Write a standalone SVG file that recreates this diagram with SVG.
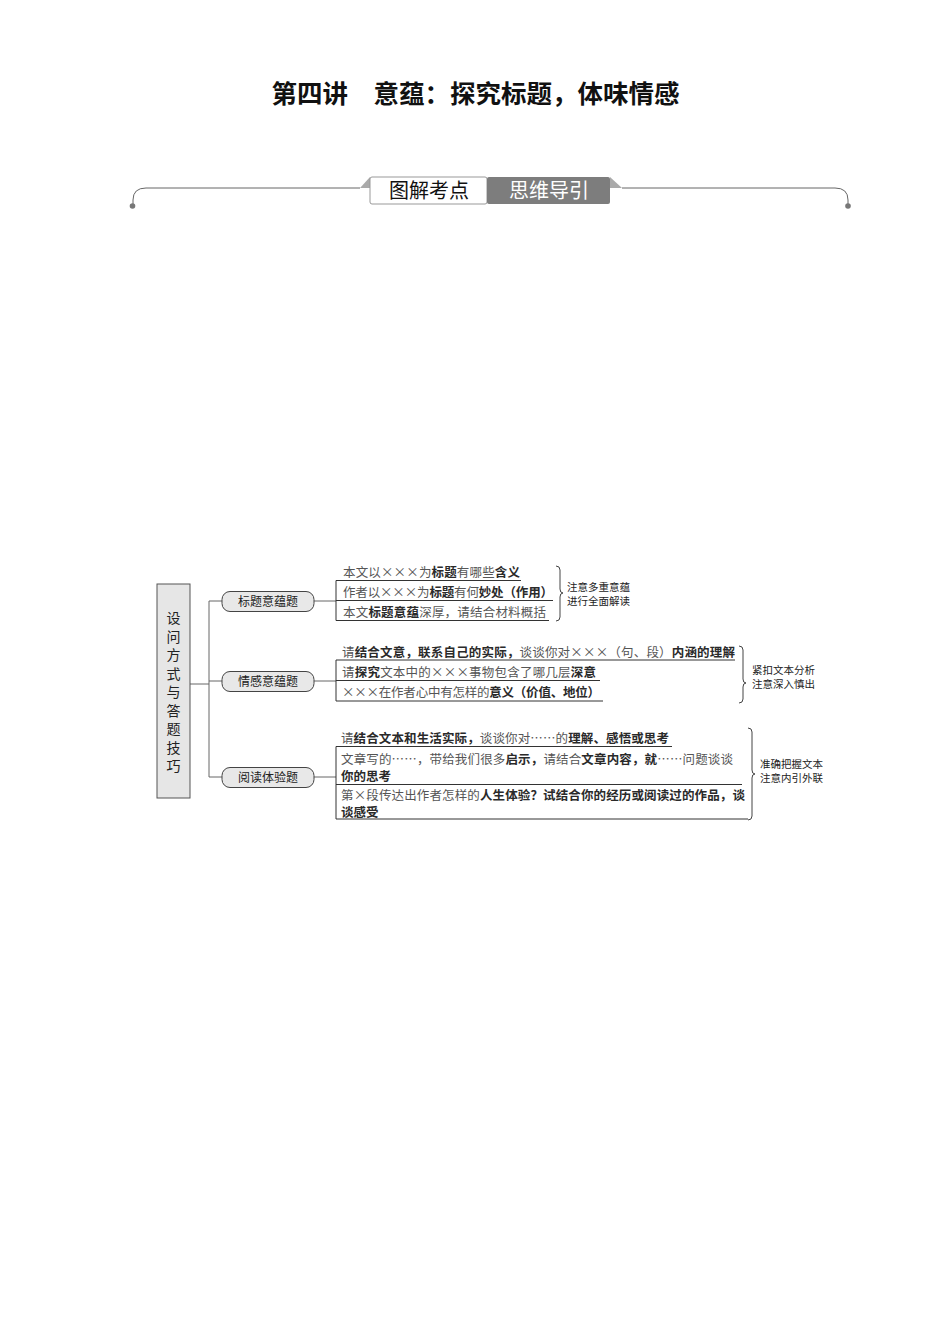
<svg xmlns="http://www.w3.org/2000/svg" width="950" height="1344" viewBox="0 0 950 1344">
<style>
.cjk{font-family:"Noto Sans CJK SC","Noto Sans",sans-serif}
.t{font-size:12.5px;fill:#555}
.b{font-weight:bold;fill:#2a2a2a}
.note{font-size:10.5px;fill:#222}
.pill{fill:#e8e8e8;stroke:#444;stroke-width:1}
.pt{font-size:12px;fill:#222;text-anchor:middle}
.ln{stroke:#666;stroke-width:1;fill:none}
.ul{stroke:#333;stroke-width:1;fill:none}
.br{stroke:#444;stroke-width:1;fill:none}
</style>
<rect width="950" height="1344" fill="#fff"/>
<g id="title">
<text class="cjk" x="475.5" y="103" font-size="25.5" font-weight="bold" text-anchor="middle" fill="#111">第四讲　意蕴：探究标题，体味情感</text>
</g>
<g id="banner">
<path d="M360,188 L146,188 Q133,188 133,200 L133,204" class="ln" stroke="#888" stroke-width="1.2"/>
<path d="M622,188 L835,188 Q848,188 848,200 L848,204" class="ln" stroke="#888" stroke-width="1.2"/>
<circle cx="132.5" cy="206" r="2.8" fill="#777"/>
<circle cx="848" cy="206" r="2.8" fill="#777"/>
<polygon points="360,188 370,177 370,188" fill="#aaa"/>
<polygon points="610,177 622,188 610,188" fill="#aaa"/>
<rect x="370" y="177" width="117" height="27" rx="2" fill="#fff" stroke="#999"/>
<rect x="487" y="177" width="123" height="27" rx="2" fill="#7d7d7d"/>
<text class="cjk" x="429" y="198" font-size="20" text-anchor="middle" fill="#111">图解考点</text>
<text class="cjk" x="549" y="198" font-size="20" text-anchor="middle" fill="#fff">思维导引</text>
</g>
<g id="connectors">
<path class="ln" d="M190,684 L209,684 M209,601 L209,777 M209,601 L222,601 M209,681 L222,681 M209,777 L222,777"/>
<path class="ln" d="M314,601 L336,601 M314,681 L336,681 M314,777 L336,777"/>
</g>
<g id="root">
<rect x="157" y="584" width="33" height="214" fill="#e6e6e6" stroke="#555"/>
<text class="cjk" font-size="14" fill="#222" text-anchor="middle">
<tspan x="173.5" y="623">设</tspan><tspan x="173.5" y="641.5">问</tspan><tspan x="173.5" y="660">方</tspan><tspan x="173.5" y="678.5">式</tspan><tspan x="173.5" y="697">与</tspan><tspan x="173.5" y="715.5">答</tspan><tspan x="173.5" y="734">题</tspan><tspan x="173.5" y="752.5">技</tspan><tspan x="173.5" y="771">巧</tspan>
</text>
</g>
<g id="n1">
<rect class="pill" x="222" y="591.5" width="92" height="20" rx="8"/>
<text class="cjk pt" x="268" y="606">标题意蕴题</text>
</g>
<g id="n2">
<rect class="pill" x="222" y="671.5" width="92" height="20" rx="8"/>
<text class="cjk pt" x="268" y="686">情感意蕴题</text>
</g>
<g id="n3">
<rect class="pill" x="222" y="767.5" width="92" height="20" rx="8"/>
<text class="cjk pt" x="268" y="782">阅读体验题</text>
</g>
<g id="g1">
<path class="ul" d="M336,580.5 L521,580.5 M336,600.5 L553,600.5 M336,620.5 L549,620.5 M336,580.5 L336,620.5"/>
<text class="cjk t" x="343" y="577" textLength="177" lengthAdjust="spacing">本文以×××为<tspan class="b">标题</tspan>有哪些<tspan class="b">含义</tspan></text>
<text class="cjk t" x="343" y="597" textLength="210" lengthAdjust="spacing">作者以×××为<tspan class="b">标题</tspan>有何<tspan class="b">妙处（作用）</tspan></text>
<text class="cjk t" x="343" y="617" textLength="203" lengthAdjust="spacing">本文<tspan class="b">标题意蕴</tspan>深厚，请结合材料概括</text>
<path class="br" d="M556,566 Q560,566 560,570 L560,589 Q560,593 563,593 Q560,593 560,597 L560,617 Q560,621 556,621"/>
<text class="cjk note" x="567" y="591">注意多重意蕴</text>
<text class="cjk note" x="567" y="605">进行全面解读</text>
</g>
<g id="g2">
<path class="ul" d="M336,660 L735,660 M336,680.5 L600,680.5 M336,701 L603,701 M336,660 L336,701"/>
<text class="cjk t" x="342" y="657" textLength="393" lengthAdjust="spacing">请<tspan class="b">结合文意，联系自己的实际，</tspan>谈谈你对×××（句、段）<tspan class="b">内涵的理解</tspan></text>
<text class="cjk t" x="342" y="677" textLength="254" lengthAdjust="spacing">请<tspan class="b">探究</tspan>文本中的×××事物包含了哪几层<tspan class="b">深意</tspan></text>
<text class="cjk t" x="342" y="697" textLength="258" lengthAdjust="spacing">×××在作者心中有怎样的<tspan class="b">意义（价值、地位）</tspan></text>
<path class="br" d="M739,646 Q743,646 743,650 L743,679 Q743,683 746,683 Q743,683 743,687 L743,699 Q743,703 739,703"/>
<text class="cjk note" x="752" y="674">紧扣文本分析</text>
<text class="cjk note" x="752" y="688">注意深入慎出</text>
</g>
<g id="g3">
<path class="ul" d="M336,746.5 L672,746.5 M336,784.5 L742,784.5 M336,819 L748,819 M336,746.5 L336,819"/>
<text class="cjk t" x="341" y="743" textLength="328" lengthAdjust="spacing">请<tspan class="b">结合文本和生活实际，</tspan>谈谈你对……的<tspan class="b">理解、感悟或思考</tspan></text>
<text class="cjk t" x="341" y="763.5" textLength="392" lengthAdjust="spacing">文章写的……，带给我们很多<tspan class="b">启示，</tspan>请结合<tspan class="b">文章内容，就</tspan>……问题谈谈</text>
<text class="cjk t b" x="341" y="780.5">你的思考</text>
<text class="cjk t" x="341" y="799.5" textLength="404" lengthAdjust="spacing">第×段传达出作者怎样的<tspan class="b">人生体验？试结合你的经历或阅读过的作品，谈</tspan></text>
<text class="cjk t b" x="341" y="816.5">谈感受</text>
<path class="br" d="M748,728 Q752,728 752,732 L752,770 Q752,774 755,774 Q752,774 752,778 L752,816 Q752,820 748,820"/>
<text class="cjk note" x="760" y="768">准确把握文本</text>
<text class="cjk note" x="760" y="782">注意内引外联</text>
</g>
</svg>
